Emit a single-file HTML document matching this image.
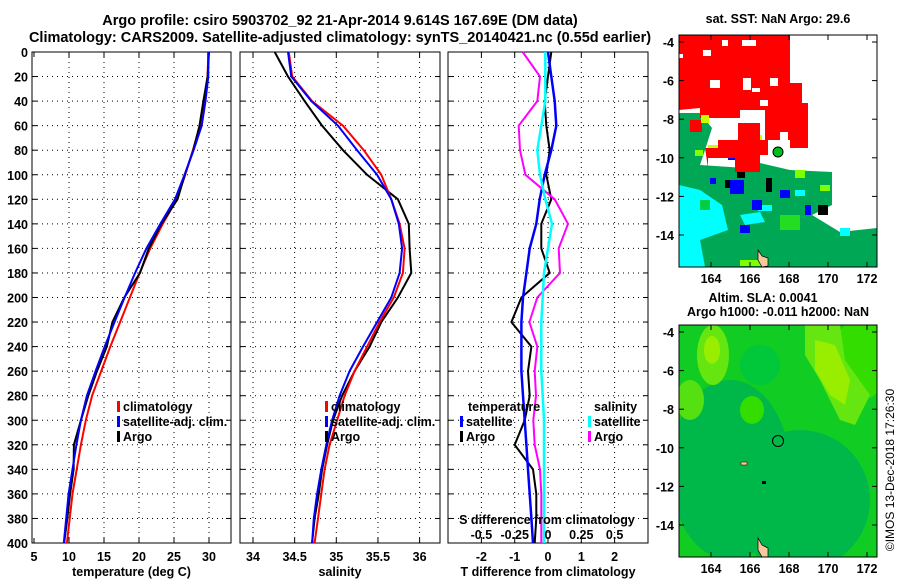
<!DOCTYPE html>
<html><head><meta charset="utf-8">
<style>
html,body{margin:0;padding:0;background:#fff;}
svg{display:block;font-family:"Liberation Sans",sans-serif;font-weight:bold;}
</style></head>
<body>
<svg id="chart" width="900" height="580" viewBox="0 0 900 580" xmlns="http://www.w3.org/2000/svg">
<text x="340" y="25" font-size="14.5" text-anchor="middle">Argo profile: csiro 5903702_92 21-Apr-2014 9.614S 167.69E (DM data)</text>
<text x="340" y="42" font-size="14.5" text-anchor="middle">Climatology: CARS2009. Satellite-adjusted climatology: synTS_20140421.nc (0.55d earlier)</text>
<g id="panels"></g>

<!-- SST map -->
<text x="778" y="23" font-size="12.5" text-anchor="middle">sat. SST: NaN Argo: 29.6</text>
<g>
<clipPath id="c1"><rect x="679" y="35" width="198" height="232"/></clipPath>
<g clip-path="url(#c1)">
<rect x="679" y="35" width="198" height="232" fill="#fff"/>
<polygon fill="#00a855" points="679,113 700,113 712,128 705,150 700,165 745,168 760,163 790,170 832,172 832,205 812,215 840,232 877,228 877,267 679,267"/>
<polygon fill="#00ffff" points="679,185 700,190 722,205 728,230 700,240 705,267 679,267"/>
<polygon fill="#00ffff" points="740,215 760,212 765,222 745,225"/>
<rect x="758" y="205" width="14" height="6" fill="#00ffff"/>
<rect x="840" y="228" width="10" height="8" fill="#00ffff"/>
<rect x="795" y="190" width="10" height="6" fill="#00ffff"/>
<rect x="728" y="148" width="12" height="12" fill="#0000ff"/>
<rect x="730" y="180" width="14" height="14" fill="#0000ff"/>
<rect x="752" y="200" width="10" height="10" fill="#0000ff"/>
<rect x="740" y="225" width="10" height="8" fill="#0000ff"/>
<rect x="710" y="178" width="6" height="6" fill="#0000ff"/>
<rect x="780" y="190" width="10" height="8" fill="#0000ff"/>
<rect x="805" y="205" width="6" height="10" fill="#0000ff"/>
<rect x="818" y="205" width="10" height="10" fill="#000"/>
<rect x="737" y="168" width="8" height="10" fill="#000"/>
<rect x="766" y="178" width="6" height="14" fill="#000"/>
<rect x="725" y="180" width="5" height="8" fill="#000"/>
<rect x="708" y="145" width="10" height="8" fill="#c8ff00"/>
<rect x="745" y="160" width="12" height="8" fill="#c8ff00"/>
<rect x="750" y="135" width="12" height="10" fill="#c8ff00"/>
<rect x="695" y="150" width="8" height="6" fill="#7fff00"/>
<rect x="740" y="260" width="28" height="6" fill="#7fff00"/>
<rect x="795" y="170" width="10" height="8" fill="#7fff00"/>
<rect x="820" y="185" width="10" height="6" fill="#7fff00"/>
<rect x="700" y="200" width="10" height="10" fill="#00cc44"/>
<rect x="780" y="215" width="20" height="15" fill="#22dd22"/>
<polygon fill="#ff0000" points="679,35 790,35 790,83 802,83 802,103 808,103 808,150 790,150 790,140 768,140 768,155 760,155 760,172 735,172 735,158 708,158 708,168 705,148 718,148 718,140 738,140 738,123 760,123 760,140 765,140 765,110 740,110 740,118 700,118 700,108 679,110"/>
<rect x="690" y="120" width="12" height="12" fill="#ff0000"/>
<rect x="810" y="152" width="12" height="13" fill="#ff0000"/>
<rect x="679" y="54" width="4" height="4" fill="#fff"/>
<rect x="703" y="50" width="8" height="6" fill="#fff"/>
<rect x="722" y="40" width="6" height="6" fill="#fff"/>
<rect x="710" y="80" width="10" height="8" fill="#fff"/>
<rect x="743" y="78" width="8" height="12" fill="#fff"/>
<rect x="752" y="88" width="8" height="4" fill="#fff"/>
<rect x="770" y="78" width="8" height="8" fill="#fff"/>
<rect x="742" y="40" width="14" height="6" fill="#fff"/>
<rect x="780" y="132" width="8" height="8" fill="#fff"/>
<rect x="760" y="100" width="8" height="6" fill="#fff"/>
<rect x="701" y="115" width="8" height="8" fill="#c8ff00"/>
<rect x="785" y="148" width="40" height="20" fill="#fff"/>
<polygon fill="#f7c89b" stroke="#000" stroke-width="0.7" points="758,250 762,256 768,258 768,266 762,267 758,260"/>
<circle cx="778" cy="152" r="5" fill="#00c020" stroke="#000" stroke-width="1"/>
</g>
<rect x="679" y="35" width="198" height="232" fill="none" stroke="#000" stroke-width="1"/>
</g>
<text x="763" y="302" font-size="12.5" text-anchor="middle">Altim. SLA: 0.0041</text>
<text x="778" y="316" font-size="12.5" text-anchor="middle">Argo h1000: -0.011 h2000: NaN</text>

<!-- SLA map -->
<g>
<clipPath id="c2"><rect x="679" y="325" width="198" height="232"/></clipPath>
<g clip-path="url(#c2)">
<rect x="679" y="325" width="198" height="232" fill="#11cc22"/>
<ellipse cx="730" cy="470" rx="60" ry="90" fill="#00b84a"/>
<ellipse cx="800" cy="500" rx="70" ry="70" fill="#00b84a"/>
<ellipse cx="860" cy="360" rx="30" ry="40" fill="#33dd00"/>
<polygon fill="#66e611" points="805,325 840,325 845,360 870,395 855,425 840,420 820,380 805,355"/>
<polygon fill="#99ee00" points="815,340 835,345 850,380 845,405 830,395 815,370"/>
<ellipse cx="713" cy="355" rx="16" ry="30" fill="#66e611"/>
<ellipse cx="712" cy="350" rx="8" ry="14" fill="#99ee00"/>
<ellipse cx="690" cy="400" rx="14" ry="20" fill="#55e011"/>
<ellipse cx="752" cy="410" rx="12" ry="14" fill="#33dd00"/>
<ellipse cx="760" cy="365" rx="20" ry="20" fill="#00c83a"/>
<polygon fill="#f7c89b" stroke="#000" stroke-width="0.7" points="758,538 762,545 768,548 768,557 762,557 758,550"/>
<circle cx="778" cy="441" r="5.5" fill="none" stroke="#000" stroke-width="1"/>
<rect x="741" y="462" width="6" height="3" fill="#f7c89b" stroke="#000" stroke-width="0.5"/>
<rect x="762" y="481" width="4" height="3" fill="#000"/>
</g>
<rect x="679" y="325" width="198" height="232" fill="none" stroke="#000" stroke-width="1"/>
</g>
<text font-size="12" font-weight="normal" transform="translate(894,470) rotate(-90)" text-anchor="middle">©IMOS 13-Dec-2018 17:26:30</text>
<g id="maplabels"></g>
</svg>
<script>
// ---- data ----
const depths = [0,20,40,60,80,100,120,140,160,180,200,220,240,260,280,300,320,340,360,380,400];
const tempClim = [29.9,29.8,29.3,28.7,27.7,26.6,25.4,23.4,21.6,20.1,18.7,17.3,15.9,14.6,13.3,12.4,11.7,11.1,10.5,10.1,9.7];
const tempSat  = [29.9,29.9,29.5,28.95,27.8,26.5,25.15,23.05,21.05,19.45,17.95,16.5,15.1,13.8,12.55,11.7,11.05,10.5,9.95,9.6,9.25];
const tempArgo = [30.0,29.8,29.2,28.65,27.75,26.55,25.5,23.2,21.4,20.15,17.9,16.2,15.4,14.0,12.75,11.7,10.7,10.65,10.15,9.75,9.3];
const salClim = [34.43,34.47,34.71,35.08,35.33,35.54,35.66,35.76,35.82,35.80,35.69,35.52,35.37,35.22,35.10,35.01,34.92,34.86,34.82,34.78,34.74];
const salSat  = [34.42,34.46,34.70,35.02,35.25,35.49,35.66,35.75,35.79,35.76,35.66,35.49,35.32,35.16,35.04,34.95,34.88,34.82,34.77,34.73,34.71];
const salArgo = [34.26,34.42,34.62,34.83,35.08,35.37,35.74,35.87,35.88,35.90,35.74,35.54,35.40,35.22,35.07,34.96,34.89,34.83,34.79,34.74,34.71];
const tDiffSat  = [0,0.1,0.2,0.25,0.1,-0.1,-0.25,-0.35,-0.55,-0.65,-0.75,-0.8,-0.8,-0.8,-0.75,-0.7,-0.65,-0.6,-0.55,-0.5,-0.45];
const tDiffArgo = [0.1,0,-0.1,-0.05,0.05,-0.05,0.1,-0.2,-0.2,0.05,-0.8,-1.1,-0.5,-0.6,-0.55,-0.7,-1.0,-0.45,-0.35,-0.35,-0.4];
const sDiffSat  = [-0.02,-0.02,-0.02,-0.05,-0.08,-0.06,-0.02,0.03,0.0,-0.03,-0.04,-0.05,-0.05,-0.05,-0.04,-0.03,-0.03,-0.03,-0.03,-0.03,-0.03];
const sDiffArgo = [-0.19,-0.06,-0.08,-0.22,-0.21,-0.17,0.05,0.15,0.08,0.09,-0.08,-0.14,-0.08,-0.1,-0.09,-0.11,-0.1,-0.06,-0.05,-0.05,-0.05];
const depthTicks = [0,20,40,60,80,100,120,140,160,180,200,220,240,260,280,300,320,340,360,380,400];
const tempTicks = [5,10,15,20,25,30];
const salTicks = [34,34.5,35,35.5,36];
const salTickLabels = ["34","34.5","35","35.5","36"];
const tdTicks = [-2,-1,0,1,2];
const sdTicks = [-0.5,-0.25,0,0.25,0.5];
const sdTickLabels = ["-0.5","-0.25","0","0.25","0.5"];
const lonTicks = [164,166,168,170,172];
const latTicks = [-4,-6,-8,-10,-12,-14];

const NS='http://www.w3.org/2000/svg';
const g=document.getElementById('panels');
function mk(tag,attrs,parent){const e=document.createElementNS(NS,tag);for(const k in attrs)e.setAttribute(k,attrs[k]);(parent||g).appendChild(e);return e;}
const Y0=52, Y1=543;
const yD = d => Y0 + d*(Y1-Y0)/400;
const xT = v => 34 + (v-5)*7;
const xS = v => 253 + (v-34)*83.3;
const xTD = v => 548 + v*33.3;
const xSD = v => 548 + v*133.2;
const panels=[{x0:32,x1:231,name:'temperature-panel'},{x0:240,x1:440,name:'salinity-panel'},{x0:448,x1:648,name:'difference-panel'}];

function panel(p,xf,ticks,labels,title){
  const pg=mk('g',{});
  
  
  depthTicks.forEach(d=>{ if(d>0&&d<400){
    const l=mk('line',{x1:p.x0,x2:p.x1,y1:yD(d),y2:yD(d),stroke:'#000','stroke-width':1,'stroke-dasharray':'1,4'},pg);
    
    
    mk('line',{x1:p.x0,x2:p.x0+5,y1:yD(d),y2:yD(d),stroke:'#000'},pg);
    mk('line',{x1:p.x1-5,x2:p.x1,y1:yD(d),y2:yD(d),stroke:'#000'},pg);
  }});
  ticks.forEach((t,i)=>{const x=xf(t);
    if(x>p.x0+2&&x<p.x1-2){
      const l=mk('line',{x1:x,x2:x,y1:Y0,y2:Y1,stroke:'#000','stroke-dasharray':'1,4'},pg);
      
      
    }
    mk('line',{x1:x,x2:x,y1:Y1-5,y2:Y1,stroke:'#000'},pg);
    mk('line',{x1:x,x2:x,y1:Y0,y2:Y0+5,stroke:'#000'},pg);
    const tx=mk('text',{x:x,y:561,'font-size':12.5,'text-anchor':'middle'},pg);
    
    
    tx.textContent=labels[i];
  });
  const tt=mk('text',{x:(p.x0+p.x1)/2,y:576,'font-size':12.5,'text-anchor':'middle'},pg);
  
  
  tt.textContent=title;
  const r=mk('rect',{x:p.x0,y:Y0,width:p.x1-p.x0,height:Y1-Y0,fill:'none',stroke:'#000','stroke-width':1},pg);
  
  
  return pg;
}
function series(pg,xf,vals,color,w,name){
  const pts=vals.map((v,i)=>xf(v).toFixed(1)+','+yD(depths[i]).toFixed(1)).join(' ');
  const pl=mk('polyline',{points:pts,fill:'none',stroke:color,'stroke-width':w},pg);
  
  
}
function legend(pg,x,y,color,label){
  mk('rect',{x:x,y:y-10,width:3,height:11,fill:color},pg);
  const t=mk('text',{x:x+6,y:y,'font-size':12.5},pg);
  
  
  t.textContent=label;
}
const p1=panel(panels[0],xT,tempTicks,tempTicks.map(String),'temperature (deg C)');
series(p1,xT,tempClim,'#f00',2,'temp-climatology-line');
series(p1,xT,tempArgo,'#000',2,'temp-argo-line');
series(p1,xT,tempSat,'#00f',2,'temp-satellite-line');
legend(p1,117,411,'#f00','climatology');legend(p1,117,426,'#00f','satellite-adj. clim.');legend(p1,117,441,'#000','Argo');

const p2=panel(panels[1],xS,salTicks,salTickLabels,'salinity');
series(p2,xS,salArgo,'#000',2,'sal-argo-line');
series(p2,xS,salClim,'#f00',2,'sal-climatology-line');
series(p2,xS,salSat,'#00f',2,'sal-satellite-line');
legend(p2,325,411,'#f00','climatology');legend(p2,325,426,'#00f','satellite-adj. clim.');legend(p2,325,441,'#000','Argo');

const p3=panel(panels[2],xTD,tdTicks,tdTicks.map(String),'T difference from climatology');
series(p3,xTD,tDiffArgo,'#000',2,'tdiff-argo-line');
series(p3,xTD,tDiffSat,'#00f',2.5,'tdiff-satellite-line');
series(p3,xSD,sDiffArgo,'#f0f',2,'sdiff-argo-line');
series(p3,xSD,sDiffSat,'#0ff',2.5,'sdiff-satellite-line');
let t=mk('text',{x:468,y:411,'font-size':12.5},p3);t.textContent='temperature';
t=mk('text',{x:594,y:411,'font-size':12.5},p3);t.textContent='salinity';
legend(p3,460,426,'#00f','satellite');legend(p3,460,441,'#000','Argo');
legend(p3,588,426,'#0ff','satellite');legend(p3,588,441,'#f0f','Argo');
t=mk('text',{x:547,y:524,'font-size':12.5,'text-anchor':'middle'},p3);


t.textContent='S difference from climatology';
sdTicks.forEach((v,i)=>{const s=mk('text',{x:xSD(v),y:539,'font-size':12.5,'text-anchor':'middle'},p3);
  
  
  s.textContent=sdTickLabels[i];});

depthTicks.forEach(d=>{const s=mk('text',{x:28,y:yD(d)+5,'font-size':12.5,'text-anchor':'end'});
  
  
  s.textContent=String(d);});

// map axes
const ml=document.getElementById('maplabels');
const xLon=v=>711+(v-164)*19.5;
[[35,42],[325,332]].forEach(([top,y4])=>{
  const bottom=top+232;
  lonTicks.forEach(v=>{const x=xLon(v);
    mk('line',{x1:x,x2:x,y1:bottom-5,y2:bottom,stroke:'#000'},ml);
    mk('line',{x1:x,x2:x,y1:top,y2:top+5,stroke:'#000'},ml);
    const s=mk('text',{x:x,y:bottom+16,'font-size':12.5,'text-anchor':'middle'},ml);
    
    
    s.textContent=String(v);});
  latTicks.forEach(v=>{const y=y4+(-4-v)*19.3;
    mk('line',{x1:679,x2:684,y1:y,y2:y,stroke:'#000'},ml);
    mk('line',{x1:872,x2:877,y1:y,y2:y,stroke:'#000'},ml);
    const s=mk('text',{x:674,y:y+5,'font-size':12.5,'text-anchor':'end'},ml);
    
    
    s.textContent=String(v);});
});
</script>
</body></html>
